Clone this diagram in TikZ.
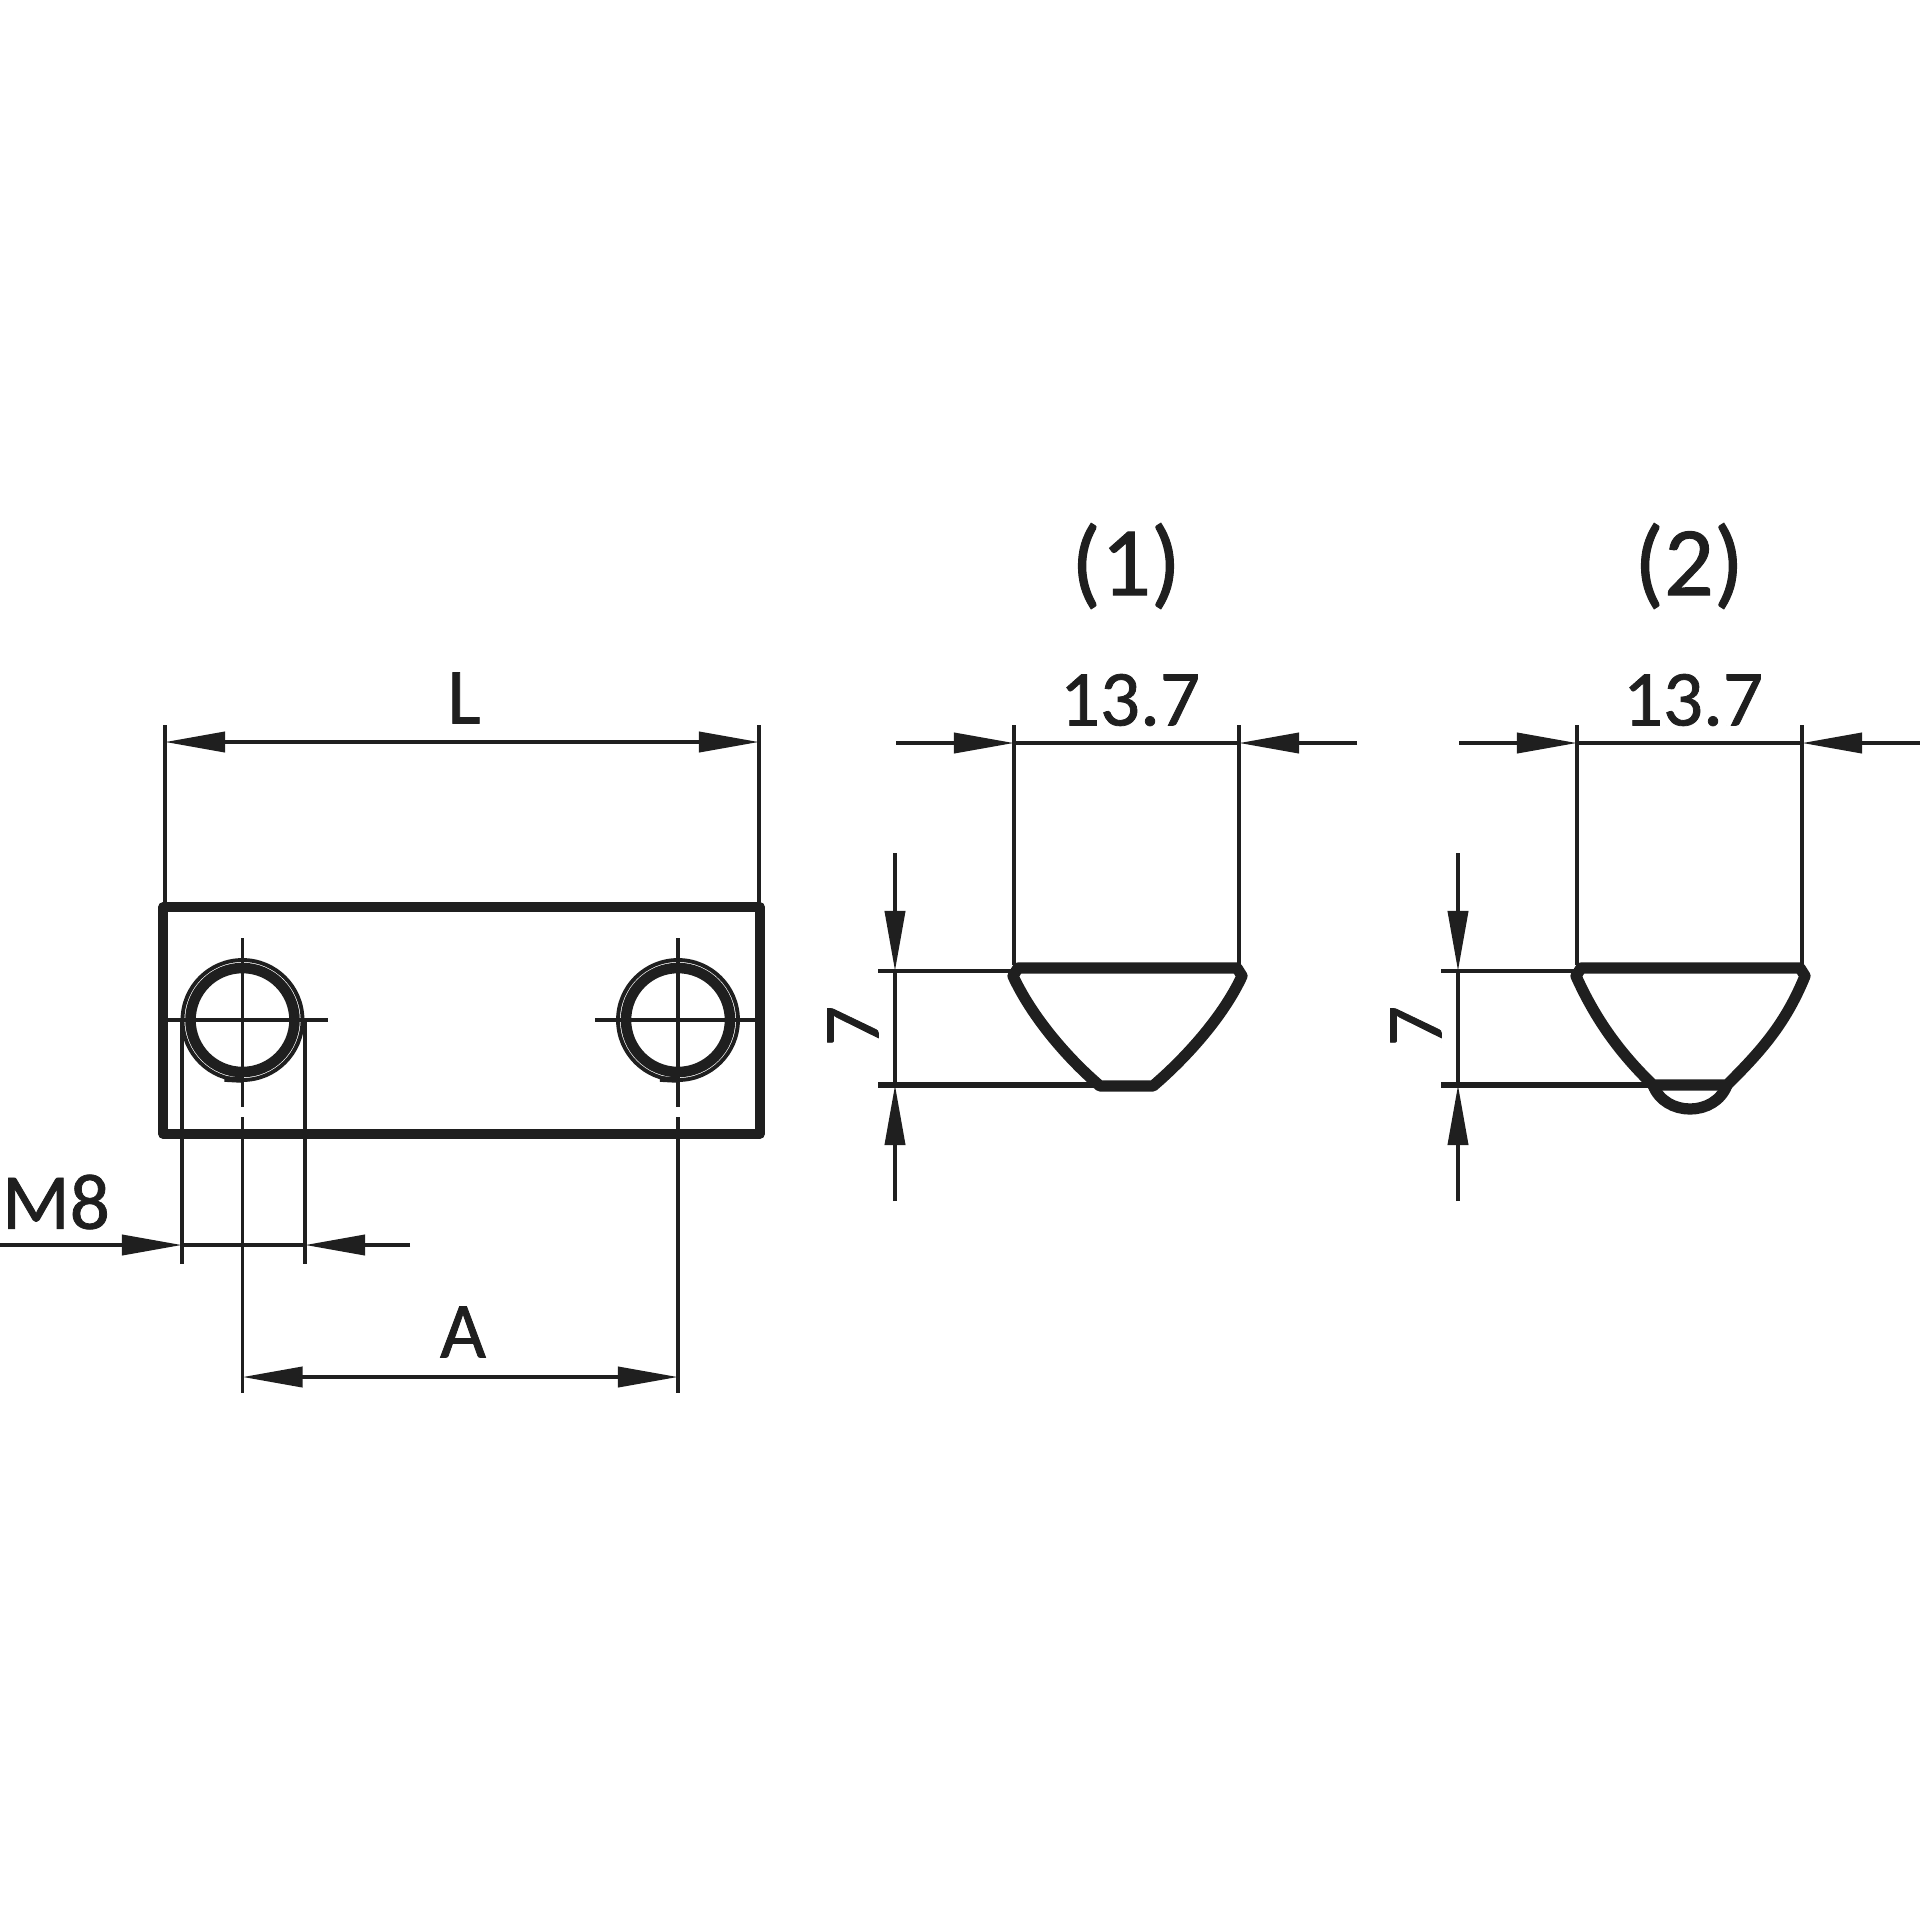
\documentclass[tikz,border=0pt]{standalone}
\usepackage{fontspec}
\setmainfont[FakeBold=1]{Carlito}
\usetikzlibrary{arrows.meta}

\begin{document}
\begin{tikzpicture}[x=0.01cm,y=-0.01cm,>={Triangle[length=0.6cm,width=0.2cm]},
    thin line/.style={draw=black!88,line width=1.1pt},
    thick line/.style={draw=black!88,line width=2.6pt,line join=round},
    nut line/.style={draw=black!88,line width=3.2pt,line join=round},
    label node/.style={inner sep=0pt,text=black!88,font=\fontsize{22.5}{26}\selectfont},
    title node/.style={inner sep=0pt,text=black!88,font=\fontsize{28}{32}\selectfont}]
    \useasboundingbox (0,0) rectangle (1920,1920);

    % plate
    \draw[thick line] (163,907) rectangle (760,1134);
    \foreach \hx/\hname/\hleft/\hright in {242.5/holeA/159/328,678/holeB/595/762}{
        \coordinate (\hname) at (\hx,1020);
        \draw[thick line,line width=3pt] (\hname) circle (52);
        \draw[thin line] (\hname) circle (60);
        \draw[thin line,line width=1.6pt] (\hx-18,1079) -- (\hx,1080);
        \draw[thin line] (\hleft,1020) -- (\hright,1020);
        \draw[thin line] (\hx,938) -- (\hx,1107);
        \draw[thin line] (\hx,1117) -- (\hx,1393);
    }

    % L
    \draw[thin line] (165,725) -- (165,907);
    \draw[thin line] (759,725) -- (759,907);
    \draw[thin line,<->] (165,742) -- (759,742);
    \node[label node] (dimL) at (464,698) {L};

    % A
    \draw[thin line,<->] (242.5,1377) -- (678,1377);
    \node[label node] (dimA) at (463,1332) {A};

    % M8
    \draw[thin line] (182,1020) -- (182,1264);
    \draw[thin line] (305,1020) -- (305,1264);
    \draw[thin line] (182,1245) -- (305,1245);
    \draw[thin line,->] (0,1245) -- (182,1245);
    \draw[thin line,->] (410,1245) -- (305,1245);
    \node[label node] (dimM) at (56,1202) {M8};

    % profiles
    \foreach \dx/\ptitle in {0/(1),563/(2)}{
        \begin{scope}[xshift=\dx*0.01cm]
            \node[title node] (title\dx) at (1126,566) {\ptitle};
            \node[label node] (width\dx) at (1130,700) {13.7};
            \node[label node,rotate=90] (height\dx) at (853,1026) {7};
            \draw[thin line] (1014,725) -- (1014,965);
            \draw[thin line] (1239,725) -- (1239,965);
            \draw[thin line] (1014,743) -- (1239,743);
            \draw[thin line,->] (896,743) -- (1014,743);
            \draw[thin line,->] (1357,743) -- (1239,743);
            \draw[thin line] (878,971) -- (1014,971);
            \draw[thin line,line width=1.5pt] (878,1085) -- (1095,1085);
            \draw[thin line] (895,971) -- (895,1085);
            \draw[thin line,->] (895,853) -- (895,971);
            \draw[thin line,->] (895,1201) -- (895,1085);
        \end{scope}
    }

    % nut (1)
    \draw[nut line] (1018,968) -- (1237,968) -- (1242,976)
        .. controls (1224,1015) and (1188,1056) .. (1153,1086) -- (1100,1086)
        .. controls (1065,1056) and (1031,1015) .. (1013,976) -- cycle;

    % nut (2)
    \draw[nut line] (1581,968) -- (1800,968) -- (1805,976)
        .. controls (1785,1025) and (1760,1052) .. (1727,1085) -- (1653,1085)
        .. controls (1625,1058) and (1598,1025) .. (1576,976) -- cycle;
    \draw[nut line] (1653,1085) .. controls (1665,1117) and (1715,1117) .. (1727,1085);
\end{tikzpicture}
\end{document}
